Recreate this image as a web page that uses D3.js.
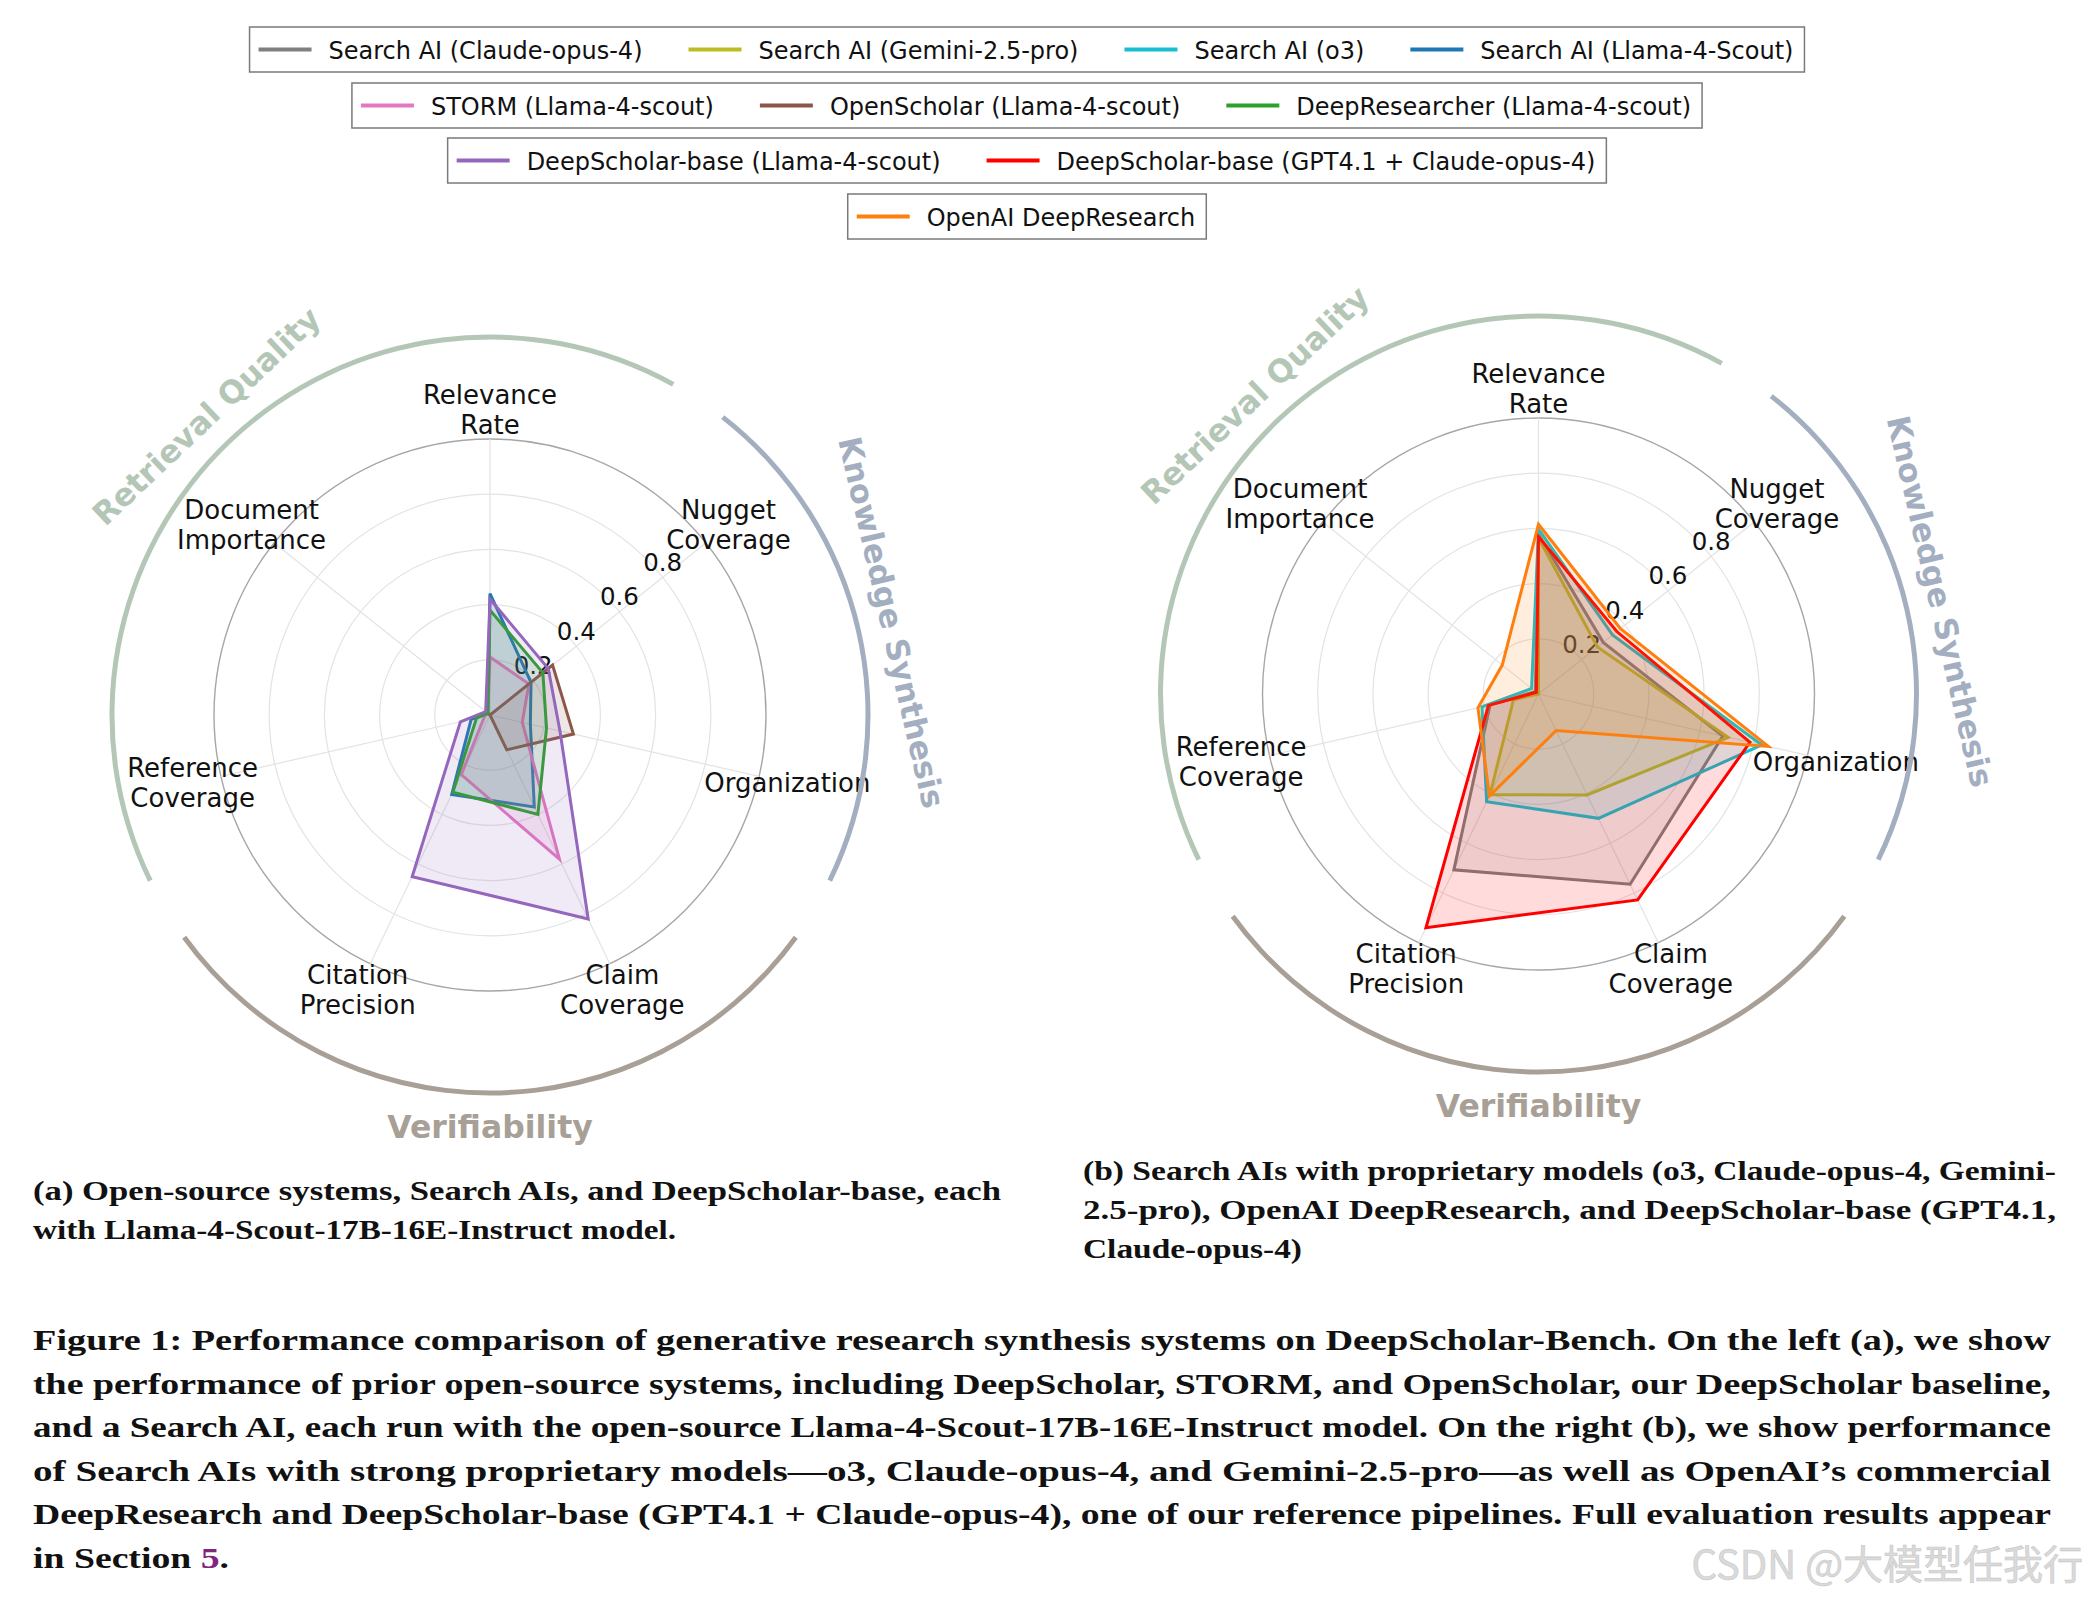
<!DOCTYPE html>
<html><head><meta charset="utf-8">
<script src="https://cdn.jsdelivr.net/npm/d3@7"></script>
<style>html,body{margin:0;padding:0;background:#fff}</style>
</head><body>
<svg id="chart" width="2087" height="1599" xmlns="http://www.w3.org/2000/svg"></svg>
<script>
// ---------------- data ----------------
const axisLabels = [["Relevance","Rate"],["Nugget","Coverage"],["Organization"],["Claim","Coverage"],["Citation","Precision"],["Reference","Coverage"],["Document","Importance"]];
const tickValues = [0.2, 0.4, 0.6, 0.8];
const tickLabels = ["0.2", "0.4", "0.6", "0.8"];

const legendRows = [
  ["Search AI (Claude-opus-4)", "Search AI (Gemini-2.5-pro)", "Search AI (o3)", "Search AI (Llama-4-Scout)"],
  ["STORM (Llama-4-scout)", "OpenScholar (Llama-4-scout)", "DeepResearcher (Llama-4-scout)"],
  ["DeepScholar-base (Llama-4-scout)", "DeepScholar-base (GPT4.1 + Claude-opus-4)"],
  ["OpenAI DeepResearch"]
];
const seriesColors = {
  "Search AI (Claude-opus-4)": "#7f7f7f",
  "Search AI (Gemini-2.5-pro)": "#bcbd22",
  "Search AI (o3)": "#17becf",
  "Search AI (Llama-4-Scout)": "#1f77b4",
  "STORM (Llama-4-scout)": "#e377c2",
  "OpenScholar (Llama-4-scout)": "#8c564b",
  "DeepResearcher (Llama-4-scout)": "#2ca02c",
  "DeepScholar-base (Llama-4-scout)": "#9467bd",
  "DeepScholar-base (GPT4.1 + Claude-opus-4)": "#ff0000",
  "OpenAI DeepResearch": "#ff7f0e"
};

// (a) open-source systems with Llama-4-Scout
const searchAiLlama     = [0.44, 0.19, 0.15, 0.37, 0.32, 0.07, 0.01];
const stormLlama        = [0.21, 0.18, 0.12, 0.58, 0.24, 0.02, 0.01];
const openScholarLlama  = [0.00, 0.29, 0.31, 0.14, 0.00, 0.00, 0.01];
const deepResearcherLlama = [0.38, 0.245, 0.21, 0.40, 0.31, 0.05, 0.01];
const deepScholarLlama  = [0.42, 0.27, 0.26, 0.82, 0.65, 0.11, 0.02];

// (b) proprietary
const searchAiClaude    = [0.58, 0.30, 0.685, 0.765, 0.707, 0.18, 0.015];
const searchAiGemini    = [0.565, 0.273, 0.705, 0.406, 0.405, 0.093, 0.0];
const searchAiO3        = [0.597, 0.343, 0.83, 0.50, 0.433, 0.21, 0.032];
const deepScholarGpt    = [0.57, 0.363, 0.786, 0.828, 0.94, 0.186, 0.01];
const openAiDeepResearch = [0.615, 0.38, 0.854, 0.147, 0.41, 0.225, 0.168];

const leftSeries = [
  ["Search AI (Llama-4-Scout)", searchAiLlama],
  ["STORM (Llama-4-scout)", stormLlama],
  ["OpenScholar (Llama-4-scout)", openScholarLlama],
  ["DeepResearcher (Llama-4-scout)", deepResearcherLlama],
  ["DeepScholar-base (Llama-4-scout)", deepScholarLlama]
];
const rightSeries = [
  ["Search AI (Claude-opus-4)", searchAiClaude],
  ["Search AI (Gemini-2.5-pro)", searchAiGemini],
  ["Search AI (o3)", searchAiO3],
  ["DeepScholar-base (GPT4.1 + Claude-opus-4)", deepScholarGpt],
  ["OpenAI DeepResearch", openAiDeepResearch]
];

const groupNames = ["Retrieval Quality", "Knowledge Synthesis", "Verifiability"];
const groupColors = ["#b4c6b6", "#a3afc0", "#a89f97"];
const groupSpans = [[-116, 29], [38, 116], [126, 234]]; // degrees clockwise from top

const captionA = ["(a) Open-source systems, Search AIs, and DeepScholar-base, each", "with Llama-4-Scout-17B-16E-Instruct model."];
const captionB = ["(b) Search AIs with proprietary models (o3, Claude-opus-4, Gemini-", "2.5-pro), OpenAI DeepResearch, and DeepScholar-base (GPT4.1,", "Claude-opus-4)"];
const figCaption = [
  "Figure 1: Performance comparison of generative research synthesis systems on DeepScholar-Bench. On the left (a), we show",
  "the performance of prior open-source systems, including DeepScholar, STORM, and OpenScholar, our DeepScholar baseline,",
  "and a Search AI, each run with the open-source Llama-4-Scout-17B-16E-Instruct model. On the right (b), we show performance",
  "of Search AIs with strong proprietary models\u2014o3, Claude-opus-4, and Gemini-2.5-pro\u2014as well as OpenAI\u2019s commercial",
  "DeepResearch and DeepScholar-base (GPT4.1 + Claude-opus-4), one of our reference pipelines. Full evaluation results appear",
  "in Section "
];

// ---------------- drawing ----------------
const svg = d3.select("#chart");
const SANS = "'DejaVu Sans', sans-serif";
const SERIF = "'Liberation Serif', 'DejaVu Serif', serif";

const nAxes = axisLabels.length;
const angle = d3.scaleLinear().domain([0, nAxes]).range([0, 2 * Math.PI]);
const rScale = d3.scaleLinear().domain([0, 1]).range([0, 276]);
const deg = d => d * Math.PI / 180;

function drawRadar(cx, cy, series) {
  const g = svg.append("g").attr("transform", `translate(${cx},${cy})`);
  // rings
  g.selectAll("circle.ring").data(tickValues).join("circle")
    .attr("r", d => rScale(d)).attr("fill", "none")
    .attr("stroke", "#e3e3e3").attr("stroke-width", 1.2);
  g.append("circle").attr("r", rScale(1)).attr("fill", "none")
    .attr("stroke", "#a6a6a6").attr("stroke-width", 1.4);
  // spokes
  g.selectAll("line.spoke").data(d3.range(nAxes)).join("line")
    .attr("x1", 0).attr("y1", 0)
    .attr("x2", i => rScale(1) * Math.sin(angle(i)))
    .attr("y2", i => -rScale(1) * Math.cos(angle(i)))
    .attr("stroke", "#e3e3e3").attr("stroke-width", 1.2);
  // tick labels along the second axis
  const ta = angle(1);
  g.selectAll("text.tick").data(tickValues).join("text")
    .attr("x", d => rScale(d) * Math.sin(ta))
    .attr("y", d => -rScale(d) * Math.cos(ta) - 15)
    .attr("text-anchor", "middle").attr("dominant-baseline", "central")
    .attr("font-family", SANS).attr("font-size", 24.5).attr("fill", "#111")
    .text((d, i) => tickLabels[i]);
  // polygons
  const radial = d3.lineRadial()
    .angle((d, i) => angle(i)).radius(d => rScale(d))
    .curve(d3.curveLinearClosed);
  series.forEach(([name, vals]) => {
    const col = seriesColors[name];
    g.append("path").attr("d", radial(vals))
      .attr("fill", col).attr("fill-opacity", 0.14).attr("stroke", "none");
    g.append("path").attr("d", radial(vals))
      .attr("fill", "none").attr("stroke", col).attr("stroke-width", 3)
      .attr("stroke-linejoin", "miter");
  });
  // axis labels
  const lr = 305, lh = 29.5;
  axisLabels.forEach((lines, i) => {
    const a = angle(i);
    const x = lr * Math.sin(a), y = -lr * Math.cos(a);
    const t = g.append("text").attr("text-anchor", "middle")
      .attr("font-family", SANS).attr("font-size", 26).attr("fill", "#111")
      .attr("dominant-baseline", "central");
    lines.forEach((s, k) => {
      t.append("tspan").attr("x", x)
        .attr("y", y + (k - (lines.length - 1) / 2) * lh).text(s);
    });
  });
  // group arcs
  const arcGen = d3.arc().innerRadius(375.5).outerRadius(380.5);
  groupSpans.forEach(([s, e], k) => {
    g.append("path").attr("d", arcGen({startAngle: deg(s), endAngle: deg(e)}))
      .attr("fill", groupColors[k]);
    const mid = (s + e) / 2;
    const R = 412;
    const x = R * Math.sin(deg(mid)), y = -R * Math.cos(deg(mid));
    let rot = mid;
    if (mid > 90 && mid < 270) rot = mid - 180;
    g.append("text").attr("transform", `translate(${x},${y}) rotate(${rot})`)
      .attr("text-anchor", "middle").attr("dominant-baseline", "central")
      .attr("font-family", SANS).attr("font-weight", "bold").attr("font-size", 31.5)
      .attr("fill", groupColors[k]).text(groupNames[k]);
  });
}

drawRadar(490, 715, leftSeries);
drawRadar(1538.5, 694, rightSeries);

// ---------------- legends ----------------
const legTops = [27, 83, 138, 194];
const legH = 45, legCx = 1027;
const padL = 9, padR = 11, handleW = 53, gapHT = 17, colSp = 46;
legendRows.forEach((row, ri) => {
  const g = svg.append("g");
  const box = g.append("rect");
  const texts = row.map(name => g.append("text")
    .attr("font-family", SANS).attr("font-size", 24).attr("fill", "#111")
    .attr("dominant-baseline", "central").text(name));
  const widths = texts.map(t => t.node().getComputedTextLength());
  const total = padL + padR + d3.sum(widths) + row.length * (handleW + gapHT) + (row.length - 1) * colSp;
  const x0 = legCx - total / 2;
  const yc = legTops[ri] + legH / 2;
  box.attr("x", x0).attr("y", legTops[ri]).attr("width", total).attr("height", legH)
    .attr("fill", "#fff").attr("stroke", "#7a7a7a").attr("stroke-width", 1.5);
  let x = x0 + padL;
  row.forEach((name, k) => {
    g.append("line").attr("x1", x).attr("x2", x + handleW).attr("y1", yc).attr("y2", yc)
      .attr("stroke", seriesColors[name]).attr("stroke-width", 4);
    texts[k].attr("x", x + handleW + gapHT).attr("y", yc + 1);
    x += handleW + gapHT + widths[k] + colSp;
  });
});

// ---------------- captions ----------------
function captionLine(x, y, str, width, size, extra) {
  const t = svg.append("text").attr("x", x).attr("y", y)
    .attr("font-family", SERIF).attr("font-weight", "bold").attr("font-size", size)
    .attr("fill", "#111").attr("textLength", width).attr("lengthAdjust", "spacingAndGlyphs");
  t.append("tspan").text(str);
  if (extra) t.append("tspan").attr("fill", "#80267f").text(extra[0]);
  if (extra) t.append("tspan").text(extra[1]);
  return t;
}
captionLine(33, 1200, captionA[0], 968, 27);
captionLine(33, 1239, captionA[1], 643, 27);
captionLine(1083, 1180, captionB[0], 973, 27);
captionLine(1083, 1219, captionB[1], 973, 27);
captionLine(1083, 1258, captionB[2], 219, 27);
const figY = [1350, 1394, 1437, 1481, 1524, 1568];
figCaption.forEach((s, i) => {
  if (i < figCaption.length - 1) captionLine(33, figY[i], s, 2018, 29);
  else captionLine(33, figY[i], s, 196, 29, ["5", "."]);
});

// watermark
svg.append("text").attr("x", 2083).attr("y", 1579).attr("text-anchor", "end")
  .attr("font-family", "'Noto Sans CJK SC', sans-serif").attr("font-size", 40)
  .attr("fill", "#dadada").attr("stroke", "#c8c8c8").attr("stroke-width", 0.6)
  .text("CSDN @大模型任我行");
</script>
</body></html>
